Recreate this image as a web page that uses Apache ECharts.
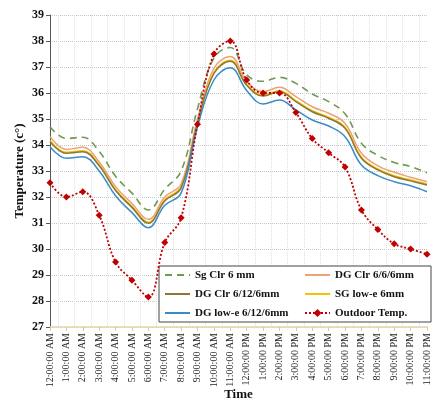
<!DOCTYPE html>
<html>
<head>
<meta charset="utf-8">
<script src="https://cdn.jsdelivr.net/npm/echarts@6/dist/echarts.min.js"></script>
<style>html,body{margin:0;padding:0;background:#fff;}#c{width:432px;height:401px;}</style>
</head>
<body>
<div id="c"></div>
<script>
const hours = ['12:00:00 AM','1:00:00 AM','2:00:00 AM','3:00:00 AM','4:00:00 AM','5:00:00 AM','6:00:00 AM','7:00:00 AM','8:00:00 AM','9:00:00 AM','10:00:00 AM','11:00:00 AM','12:00:00 PM','1:00:00 PM','2:00:00 PM','3:00:00 PM','4:00:00 PM','5:00:00 PM','6:00:00 PM','7:00:00 PM','8:00:00 PM','9:00:00 PM','10:00:00 PM','11:00:00 PM'];
const yTicks = [27,28,29,30,31,32,33,34,35,36,37,38,39];
const sgClr6 = [34.7,34.25,34.3,33.75,32.8,32.15,31.5,32.3,33.0,35.4,37.35,37.75,36.7,36.45,36.6,36.37,35.96,35.67,35.2,34.07,33.6,33.33,33.17,32.93];
const dgClr666 = [34.32,33.83,33.91,33.35,32.4,31.75,31.14,32.0,32.5,35.0,36.95,37.4,36.45,36.05,36.22,35.86,35.47,35.22,34.83,33.68,33.2,32.95,32.76,32.59];
const dgClr6126 = [34.13,33.68,33.74,33.2,32.25,31.6,30.99,31.85,32.35,34.85,36.75,37.22,36.3,35.88,36.05,35.67,35.28,35.03,34.64,33.49,33.04,32.78,32.62,32.46];
const sgLowe6 = [34.17,33.72,33.78,33.24,32.29,31.64,31.03,31.89,32.39,34.89,36.79,37.26,36.34,35.92,36.09,35.71,35.32,35.07,34.68,33.53,33.08,32.82,32.66,32.5];
const dgLowe6126 = [33.93,33.49,33.55,33.0,32.05,31.4,30.82,31.68,32.15,34.7,36.5,36.97,36.1,35.58,35.73,35.35,34.96,34.73,34.32,33.23,32.82,32.59,32.43,32.2];
const outdoor = [32.55,32.0,32.2,31.3,29.5,28.8,28.15,30.25,31.2,34.8,37.5,38.0,36.5,36.0,36.0,35.25,34.25,33.7,33.15,31.5,30.75,30.2,30.0,29.8];
const names = ['Sg Clr 6 mm','DG Clr 6/6/6mm','DG Clr 6/12/6mm','SG low-e 6mm','DG low-e 6/12/6mm','Outdoor Temp.'];

const serif = '"Liberation Serif","Times New Roman",serif';
const chart = echarts.init(document.getElementById('c'), null, {renderer:'canvas'});
const sm = 0.4;
const noSym = {color:'rgba(0,0,0,0)',borderWidth:0,opacity:0};
chart.setOption({
  animation:false,
  backgroundColor:'#fff',
  grid:{left:50,right:5,top:15,bottom:74,outerBoundsMode:'none',containLabel:false},
  legend:{
    left:159, top:266, orient:'horizontal', width:262,
    padding:[3,6,3,5], itemGap:7, itemWidth:25, itemHeight:10,
    backgroundColor:'#fff', borderColor:'#444', borderWidth:1,
    textStyle:{fontFamily:serif,fontWeight:'bold',fontSize:11,color:'#111',lineHeight:12},
    data:[
      {name:names[0],itemStyle:noSym,textStyle:{width:102}},
      {name:names[1],itemStyle:noSym,textStyle:{width:90}},
      {name:names[2],itemStyle:noSym,textStyle:{width:102}},
      {name:names[3],itemStyle:noSym,textStyle:{width:90}},
      {name:names[4],itemStyle:noSym,textStyle:{width:102}},
      {name:names[5],textStyle:{width:90}}
    ]
  },
  xAxis:[{
    type:'category', data:hours, boundaryGap:false,
    name:'Time', nameLocation:'middle', nameGap:61, nameMoveOverlap:false,
    nameTextStyle:{fontFamily:serif,fontWeight:'bold',fontSize:13,color:'#111'},
    axisLine:{lineStyle:{color:'#E9D6A8',width:1.5}},
    axisTick:{show:true,length:4,lineStyle:{color:'#E0C990'}},
    axisLabel:{interval:0,rotate:90,margin:6,fontFamily:serif,fontSize:10,color:'#222'},
    splitLine:{show:false}
  },{
    type:'value', min:0, max:23, interval:1, position:'bottom',
    axisLine:{show:false}, axisTick:{show:false}, axisLabel:{show:false},
    splitLine:{show:false},
    minorTick:{show:false,splitNumber:2},
    minorSplitLine:{show:true,lineStyle:{color:'#e0e0e0',type:'dotted',width:1}}
  }],
  yAxis:{
    type:'value', min:yTicks[0], max:yTicks[yTicks.length-1], interval:1,
    name:'Temperature (c°)', nameLocation:'middle', nameGap:24, nameMoveOverlap:false,
    nameTextStyle:{fontFamily:serif,fontWeight:'bold',fontSize:13,color:'#111'},
    axisLine:{show:true,lineStyle:{color:'#595959',width:1}},
    axisTick:{show:true,length:4,lineStyle:{color:'#595959'}},
    axisLabel:{margin:6,fontFamily:serif,fontWeight:'bold',fontSize:12,color:'#111'},
    splitLine:{show:true,lineStyle:{color:'#c4c4c4',type:'dotted',width:1}}
  },
  series:[
    {name:names[0],type:'line',data:sgClr6,smooth:sm,symbol:'none',z:3,
     lineStyle:{color:'#6F9A52',width:1.6,type:[7,5]},itemStyle:{color:'#6F9A52'}},
    {name:names[1],type:'line',data:dgClr666,smooth:sm,symbol:'none',z:3,
     lineStyle:{color:'#EBA276',width:1.5},itemStyle:{color:'#EBA276'}},
    {name:names[2],type:'line',data:dgClr6126,smooth:sm,symbol:'none',z:4,
     lineStyle:{color:'#8C7733',width:1.5},itemStyle:{color:'#8C7733'}},
    {name:names[3],type:'line',data:sgLowe6,smooth:sm,symbol:'none',z:2,
     lineStyle:{color:'#F5C200',width:1.5},itemStyle:{color:'#F5C200'}},
    {name:names[4],type:'line',data:dgLowe6126,smooth:sm,symbol:'none',z:4,
     lineStyle:{color:'#3B8CC6',width:1.5},itemStyle:{color:'#3B8CC6'}},
    {name:names[5],type:'line',data:outdoor,smooth:sm,symbol:'diamond',symbolSize:7,z:5,
     lineStyle:{color:'#C00000',width:1.8,type:[2,2]},itemStyle:{color:'#C00000'}}
  ]
});
</script>
</body>
</html>
